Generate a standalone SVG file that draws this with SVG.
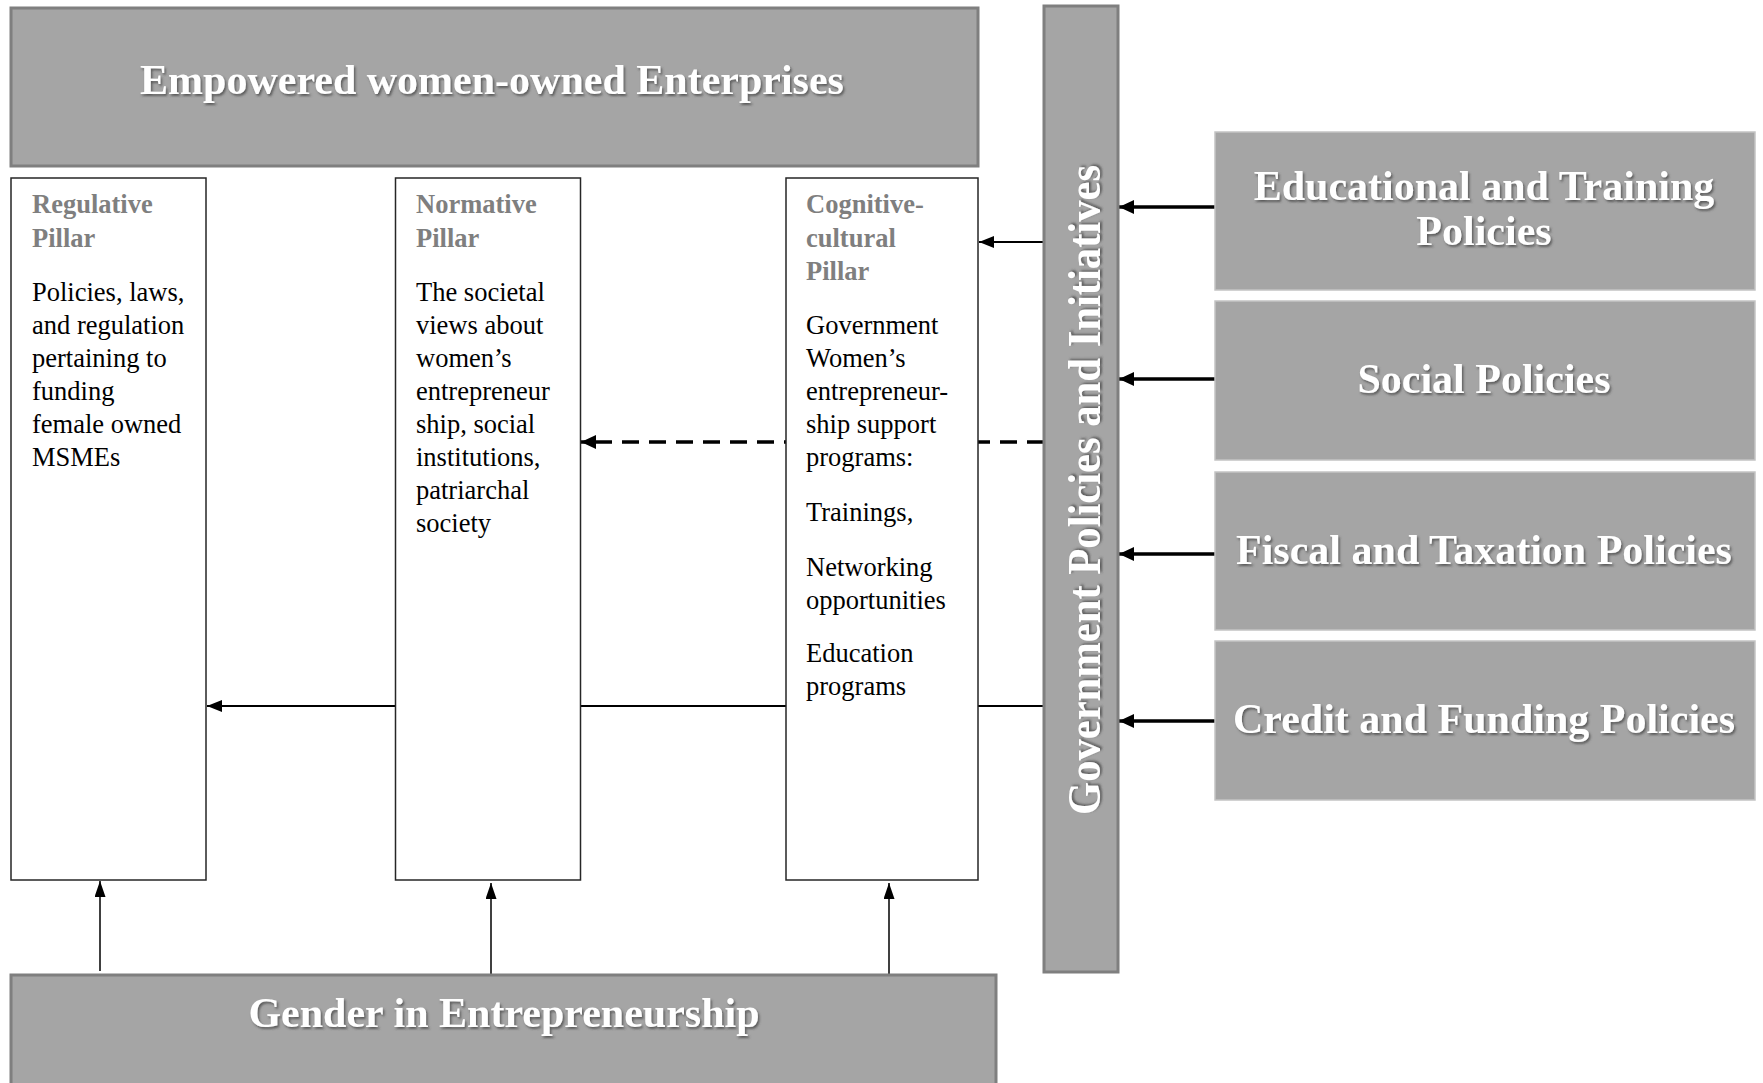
<svg xmlns="http://www.w3.org/2000/svg" width="1763" height="1083" viewBox="0 0 1763 1083">
<style>
.gbox{fill:#a5a5a5;stroke:#7f7f7f;stroke-width:3}
.pbox{fill:#a5a5a5;stroke:#c4c4c4;stroke-width:1.5}
.pillar{fill:#ffffff;stroke:#262626;stroke-width:1.5}
.title{font-family:"Liberation Serif","Times New Roman",serif;font-weight:bold;font-size:42px;fill:#ffffff;text-anchor:middle}
.head{font-family:"Liberation Serif","Times New Roman",serif;font-weight:bold;font-size:26.5px;fill:#7f7f7f}
.body{font-family:"Liberation Serif","Times New Roman",serif;font-size:26.5px;fill:#000000}
.c{fill:none;stroke:#000000}
</style>
<defs>
<filter id="sh" x="-10%" y="-30%" width="120%" height="160%">
<feDropShadow dx="1.5" dy="2" stdDeviation="1.2" flood-color="#3a3a3a" flood-opacity="0.7"/>
</filter>
<marker id="ah" markerUnits="userSpaceOnUse" markerWidth="16" markerHeight="14" refX="15" refY="7" orient="auto">
<path d="M0,0 L15,7 L0,14 z" fill="#000"/>
</marker>
<marker id="ahs" markerUnits="userSpaceOnUse" markerWidth="16" markerHeight="12" refX="15" refY="6" orient="auto">
<path d="M0,0 L15,6 L0,12 z" fill="#000"/>
</marker>
<marker id="ahv" markerUnits="userSpaceOnUse" markerWidth="16" markerHeight="12" refX="16" refY="5.5" orient="auto">
<path d="M0,0 L16,5.5 L0,11 z" fill="#000"/>
</marker>
</defs>

<g id="connectors">
<line class="c" x1="1044" y1="242" x2="979" y2="242" stroke-width="2.2" marker-end="url(#ahs)"/>
<line class="c" x1="1044" y1="442" x2="581" y2="442" stroke-width="3.5" stroke-dasharray="17 10" marker-end="url(#ah)"/>
<line class="c" x1="1044" y1="706" x2="207" y2="706" stroke-width="2.2" marker-end="url(#ahs)"/>
<line class="c" x1="100" y1="971" x2="100" y2="881" stroke-width="1.5" marker-end="url(#ahv)"/>
<line class="c" x1="491" y1="975" x2="491" y2="883" stroke-width="1.5" marker-end="url(#ahv)"/>
<line class="c" x1="889" y1="975" x2="889" y2="883" stroke-width="1.5" marker-end="url(#ahv)"/>
<line class="c" x1="1215" y1="207" x2="1119" y2="207" stroke-width="3.5" marker-end="url(#ah)"/>
<line class="c" x1="1215" y1="379" x2="1119" y2="379" stroke-width="3.5" marker-end="url(#ah)"/>
<line class="c" x1="1215" y1="554" x2="1119" y2="554" stroke-width="3.5" marker-end="url(#ah)"/>
<line class="c" x1="1215" y1="721" x2="1119" y2="721" stroke-width="3.5" marker-end="url(#ah)"/>
</g>

<g id="empowered">
<rect class="gbox" x="11" y="8" width="967" height="158"/>
<text class="title" x="492" y="94" filter="url(#sh)">Empowered women-owned Enterprises</text>
</g>

<g id="regulative">
<rect class="pillar" x="11" y="178" width="195" height="702"/>
<text class="head" x="32" y="213">Regulative</text>
<text class="head" x="32" y="246.5">Pillar</text>
<text class="body" x="32" y="300.5">Policies, laws,</text>
<text class="body" x="32" y="333.5">and regulation</text>
<text class="body" x="32" y="366.5">pertaining to</text>
<text class="body" x="32" y="399.5">funding</text>
<text class="body" x="32" y="432.5">female owned</text>
<text class="body" x="32" y="466">MSMEs</text>
</g>

<g id="normative">
<rect class="pillar" x="395.5" y="178" width="185" height="702"/>
<text class="head" x="416" y="213">Normative</text>
<text class="head" x="416" y="246.5">Pillar</text>
<text class="body" x="416" y="300.5">The societal</text>
<text class="body" x="416" y="333.5">views about</text>
<text class="body" x="416" y="366.5">women’s</text>
<text class="body" x="416" y="399.5">entrepreneur</text>
<text class="body" x="416" y="432.5">ship, social</text>
<text class="body" x="416" y="465.5">institutions,</text>
<text class="body" x="416" y="498.5">patriarchal</text>
<text class="body" x="416" y="531.5">society</text>
</g>

<g id="cognitive">
<rect class="pillar" x="786" y="178" width="192" height="702"/>
<text class="head" x="806" y="213">Cognitive-</text>
<text class="head" x="806" y="246.5">cultural</text>
<text class="head" x="806" y="280">Pillar</text>
<text class="body" x="806" y="333.5">Government</text>
<text class="body" x="806" y="366.5">Women’s</text>
<text class="body" x="806" y="399.5">entrepreneur-</text>
<text class="body" x="806" y="432.5">ship support</text>
<text class="body" x="806" y="465.5">programs:</text>
<text class="body" x="806" y="521">Trainings,</text>
<text class="body" x="806" y="576">Networking</text>
<text class="body" x="806" y="609">opportunities</text>
<text class="body" x="806" y="662">Education</text>
<text class="body" x="806" y="695">programs</text>
</g>

<g id="government">
<rect class="gbox" x="1044" y="6" width="74" height="966"/>
<text class="title" transform="translate(1100,490) rotate(-90)" x="0" y="0" style="font-size:47px" textLength="650" lengthAdjust="spacingAndGlyphs" filter="url(#sh)">Government Policies and Initiatives</text>
</g>

<g id="educational">
<rect class="pbox" x="1215" y="132" width="540" height="158"/>
<text class="title" x="1484" y="200" filter="url(#sh)">Educational and Training</text>
<text class="title" x="1484" y="245" filter="url(#sh)">Policies</text>
</g>

<g id="social">
<rect class="pbox" x="1215" y="301" width="540" height="159"/>
<text class="title" x="1484" y="393" filter="url(#sh)">Social Policies</text>
</g>

<g id="fiscal">
<rect class="pbox" x="1215" y="472" width="540" height="158"/>
<text class="title" x="1484" y="564" filter="url(#sh)">Fiscal and Taxation Policies</text>
</g>

<g id="credit">
<rect class="pbox" x="1215" y="641" width="540" height="159"/>
<text class="title" x="1484" y="733" filter="url(#sh)">Credit and Funding Policies</text>
</g>

<g id="gender">
<rect class="gbox" x="11" y="975" width="985" height="130"/>
<text class="title" x="504" y="1027" filter="url(#sh)">Gender in Entrepreneurship</text>
</g>
</svg>
